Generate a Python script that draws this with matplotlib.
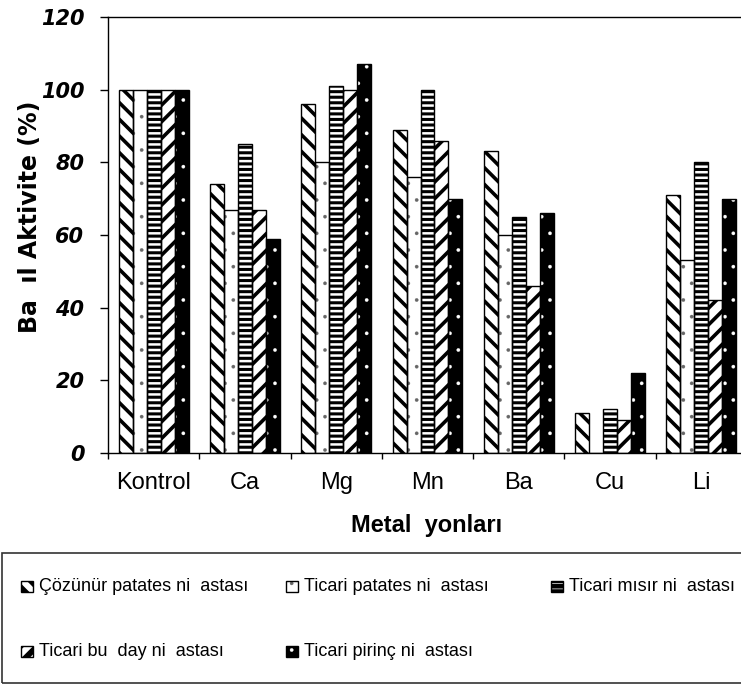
import matplotlib
matplotlib.use('Agg')
import matplotlib.pyplot as plt
from matplotlib.patches import Rectangle
import numpy as np

# ---------------- data ----------------
categories = ['Kontrol', 'Ca', 'Mg', 'Mn', 'Ba', 'Cu', 'Li']
series_names = ['Çözünür patates ni  astası', 'Ticari patates ni  astası',
                'Ticari mısır ni  astası', 'Ticari bu  day ni  astası',
                'Ticari pirinç ni  astası']
cozunur_patates = [100, 74, 96, 89, 83, 11, 71]
ticari_patates = [100, 67, 80, 76, 60, 0, 53]
ticari_misir = [100, 85, 101, 100, 65, 12, 80]
ticari_bugday = [100, 67, 100, 86, 46, 9, 42]
ticari_pirinc = [100, 59, 107, 70, 66, 22, 70]
yticks = [0, 20, 40, 60, 80, 100, 120]
ylabel = 'Ba  ıl Aktivite (%)'
xlabel = 'Metal  yonları'

series = [cozunur_patates, ticari_patates, ticari_misir, ticari_bugday, ticari_pirinc]
# (face, hatch, hatch colour, hatch linewidth)
styles = [
    ('white', '\\\\', 'black', 2.6),
    ('white', '.', '#666666', 0.2),
    ('white', '---', 'black', 2.2),
    ('white', '//', 'black', 2.6),
    ('black', '.', 'white', 0.2),
]

W, H = 741, 684
fig = plt.figure(figsize=(W / 100, H / 100), dpi=100)
ax = fig.add_axes([108 / W, 1 - 453 / H, (747 - 108) / W, (453 - 17) / H])

x = np.arange(len(categories))
bw = 0.1533
offsets = (np.arange(5) - 2) * bw
for vals, off, (face, hatch, hc, hlw) in zip(series, offsets, styles):
    with plt.rc_context({'hatch.linewidth': hlw}):
        ax.bar(x + off, vals, bw, color=face, edgecolor=hc, hatch=hatch, linewidth=0, zorder=2)
    ax.bar(x + off, vals, bw, fill=False, edgecolor='black', linewidth=1.0, zorder=3)

ax.set_xlim(-0.5, len(categories) - 0.5)
ax.set_ylim(0, 120)
ax.set_yticks(yticks)
ax.set_yticklabels([str(v) for v in yticks], fontfamily='DejaVu Sans',
                   fontweight='bold', fontstyle='italic', fontsize=15)
ax.tick_params(axis='y', length=6, width=1, direction='out', pad=11)

ax.set_xticks(np.arange(-0.5, len(categories), 1))
ax.set_xticklabels([])
ax.set_xticks(x, minor=True)
ax.set_xticklabels(categories, minor=True, fontfamily='Liberation Sans', fontsize=17)
ax.tick_params(axis='x', which='major', length=4, width=1, direction='out')
ax.tick_params(axis='x', which='minor', length=0, pad=14)
for s in ax.spines.values():
    s.set_linewidth(1.0)

fig.text(30 / W, 1 - 217 / H, ylabel, rotation=90, ha='center', va='center',
         fontfamily='DejaVu Sans', fontweight='bold', fontsize=17)
fig.text(427 / W, 1 - 532 / H, xlabel, ha='center', va='baseline',
         fontfamily='Liberation Sans', fontweight='bold', fontsize=17)

# ---------------- legend ----------------
fig.add_artist(Rectangle((2 / W, 1 - 683 / H), (760 - 2) / W, 130 / H, fill=False,
                         edgecolor='#333333', linewidth=1.2, transform=fig.transFigure,
                         clip_on=False))
col_x = [21, 286, 551]
row_y = [592, 657]
for i, (name, (face, hatch, hc, hlw)) in enumerate(zip(series_names, styles)):
    cx = col_x[i % 3]
    ry = row_y[i // 3]
    with plt.rc_context({'hatch.linewidth': hlw * 1.6 if hlw > 1 else hlw}):
        fig.add_artist(Rectangle((cx / W, 1 - ry / H), 12 / W, 11 / H, facecolor=face,
                                 edgecolor=hc, hatch=hatch, linewidth=0,
                                 transform=fig.transFigure))
    fig.add_artist(Rectangle((cx / W, 1 - ry / H), 12 / W, 11 / H, fill=False,
                             edgecolor='black', linewidth=1.0, transform=fig.transFigure))
    fig.text((cx + 18) / W, 1 - (ry - 1) / H, name, ha='left', va='baseline',
             fontfamily='Liberation Sans', fontsize=13)

fig.savefig('out.png', dpi=100)
